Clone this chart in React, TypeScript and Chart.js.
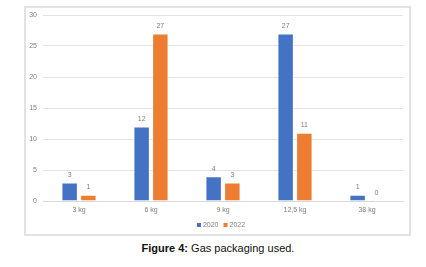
import React, { useEffect, useRef } from "react";
import { Chart, registerables } from "chart.js";

Chart.register(...registerables);

const categories = ["3 kg", "6 kg", "9 kg", "12,5 kg", "38 kg"];
const values2020 = [3, 12, 4, 27, 1];
const values2022 = [1, 27, 3, 11, 0];
const seriesNames = ["2020", "2022"];
const yTicks = [0, 5, 10, 15, 20, 25, 30];

const BLUE = "#4472C4";
const ORANGE = "#ED7D31";
const TEXT = "#808080";
const FONT = "'Liberation Sans', Arial, sans-serif";

const labelPlugin = {
  id: "valueLabels",
  afterDatasetsDraw(chart: any) {
    const ctx = chart.ctx;
    ctx.save();
    ctx.font = `7px ${FONT}`;
    ctx.fillStyle = TEXT;
    ctx.textAlign = "center";
    ctx.textBaseline = "bottom";
    chart.data.datasets.forEach((ds: any, i: number) => {
      const meta = chart.getDatasetMeta(i);
      meta.data.forEach((el: any, j: number) => {
        ctx.fillText(String(ds.data[j]), el.x, el.y - 4);
      });
    });
    // legend
    const cx = (chart.chartArea.left + chart.chartArea.right) / 2;
    const y = 225;
    const items = chart.data.datasets.map((d: any) => ({ label: d.label, color: d.backgroundColor }));
    ctx.textBaseline = "middle";
    ctx.textAlign = "left";
    const widths = items.map((it: any) => 6 + ctx.measureText(it.label).width);
    const gap = 5;
    const total = widths.reduce((a: number, b: number) => a + b, 0) + gap * (items.length - 1);
    let x = cx - total / 2 - 2;
    items.forEach((it: any, k: number) => {
      ctx.fillStyle = it.color;
      ctx.fillRect(x, y - 2, 4, 4);
      ctx.fillStyle = TEXT;
      ctx.fillText(it.label, x + 6, y);
      x += widths[k] + gap;
    });
    ctx.restore();
  },
};

export default function App() {
  const ref = useRef<HTMLCanvasElement>(null);
  useEffect(() => {
    if (!ref.current) return;
    const chart = new Chart(ref.current, {
      type: "bar",
      data: {
        labels: categories,
        datasets: [
          {
            label: seriesNames[0],
            data: values2020,
            backgroundColor: BLUE,
            borderColor: "rgba(255,255,255,0.5)",
            borderWidth: 1,
            categoryPercentage: 0.52,
            barPercentage: 0.88,
          },
          {
            label: seriesNames[1],
            data: values2022,
            backgroundColor: ORANGE,
            borderColor: "rgba(255,255,255,0.5)",
            borderWidth: 1,
            categoryPercentage: 0.52,
            barPercentage: 0.88,
          },
        ],
      },
      options: {
        responsive: false,
        animation: false,
        layout: { padding: { left: 0, right: 23, top: 15, bottom: 0 } },
        plugins: { legend: { display: false }, tooltip: { enabled: false } },
        scales: {
          x: {
            grid: { display: false, drawTicks: false },
            border: { display: true, color: "#d9d9d9" },
            ticks: { font: { size: 7, family: FONT }, color: TEXT, padding: 5 },
            afterFit: (s: any) => {
              s.height = 39;
            },
          },
          y: {
            min: 0,
            max: 30,
            afterBuildTicks: (s: any) => {
              s.ticks = yTicks.map((v) => ({ value: v }));
            },
            grid: { color: "#e3e3e3", drawTicks: false },
            border: { display: false },
            ticks: { font: { size: 7, family: FONT }, color: TEXT, padding: 6 },
            afterFit: (s: any) => {
              s.width = 43;
            },
          },
        },
      },
      plugins: [labelPlugin],
    });
    return () => chart.destroy();
  }, []);

  return (
    <div style={{ position: "absolute", left: 0, top: 0, width: 426, height: 267, background: "#fff" }}>
      <div
        style={{
          position: "absolute",
          left: 24,
          top: 6,
          width: 383,
          height: 226,
          border: "2px solid #e2e2e2",
        }}
      />
      <canvas ref={ref} width={426} height={240} style={{ position: "absolute", left: 0, top: 0 }} />
      <div
        style={{
          position: "absolute",
          left: 0,
          width: 436,
          top: 241,
          textAlign: "center",
          fontFamily: FONT,
          fontSize: 11,
          color: "#111",
          lineHeight: "14px",
        }}
      >
        <b>Figure 4:</b> Gas packaging used.
      </div>
    </div>
  );
}
